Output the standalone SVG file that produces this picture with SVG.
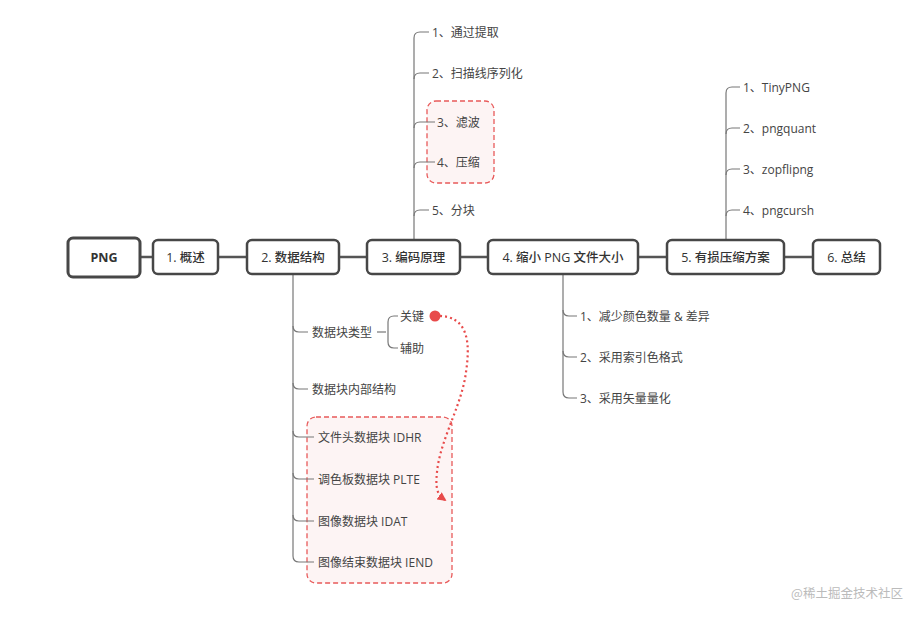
<svg xmlns="http://www.w3.org/2000/svg" width="923" height="621" viewBox="0 0 923 621">
<defs>
<style>
.box{fill:#fff;stroke:#474747;stroke-width:2.5}
.mt{font-family:"Open Sans","Noto Sans CJK SC",sans-serif;font-size:12.5px;font-weight:500;fill:#333;text-anchor:middle;dominant-baseline:central}
.ct{font-family:"Open Sans","Noto Sans CJK SC",sans-serif;font-size:12px;fill:#444;dominant-baseline:central}
.ln{fill:none;stroke:#555;stroke-width:2.5}
.br{fill:none;stroke:#777;stroke-width:1.2}
.hl{fill:#fdf4f4;stroke:#e85a5a;stroke-width:1.3;stroke-dasharray:5 3}
</style>
<marker id="ah" viewBox="0 0 10 10" refX="8" refY="5" markerWidth="9" markerHeight="9" markerUnits="userSpaceOnUse" orient="auto">
<path d="M0,0 L10,5 L0,10 Z" fill="#e84a4a"/>
</marker>
</defs>
<rect width="923" height="621" fill="#fff"/>

<g id="highlights">
<rect class="hl" x="427" y="101" width="67" height="82" rx="9"/>
<rect class="hl" x="307" y="417" width="145" height="166" rx="9"/>
</g>

<g id="connectors">
<path class="ln" d="M140,257 H153 M218,257 H247 M339,257 H367 M460,257 H488 M638,257 H667 M784,257 H813"/>
<path class="br" d="M414,240 V38 Q414,32 420,32 H429"/>
<path class="br" d="M414,79 Q414,73 420,73 H429"/>
<path class="br" d="M414,128 Q414,122 420,122 H435"/>
<path class="br" d="M414,168 Q414,162 420,162 H435"/>
<path class="br" d="M414,216 Q414,210 420,210 H429"/>
<path class="br" d="M726,240 V93 Q726,87 732,87 H740"/>
<path class="br" d="M726,134 Q726,128 732,128 H740"/>
<path class="br" d="M726,175 Q726,169 732,169 H740"/>
<path class="br" d="M726,216 Q726,210 732,210 H740"/>
<path class="br" d="M293,274 V556 Q293,562 299,562 H314"/>
<path class="br" d="M293,326 Q293,332 299,332 H308"/>
<path class="br" d="M293,383 Q293,389 299,389 H308"/>
<path class="br" d="M293,431 Q293,437 299,437 H314"/>
<path class="br" d="M293,473 Q293,479 299,479 H314"/>
<path class="br" d="M293,515 Q293,521 299,521 H314"/>
<path class="br" d="M377,332 H386"/>
<path class="br" d="M398,316 H394 Q388,316 388,322 V342 Q388,348 394,348 H398"/>
<path class="br" d="M563,274 V392 Q563,398 569,398 H577"/>
<path class="br" d="M563,310 Q563,316 569,316 H577"/>
<path class="br" d="M563,351 Q563,357 569,357 H577"/>
<circle cx="435" cy="316" r="5.5" fill="#e84a4a"/>
<path d="M435,316 C470,314 470,345 466,372 C462,405 440,440 437,472 C435,490 438,495 445,500" fill="none" stroke="#e84a4a" stroke-width="2.2" stroke-dasharray="2 3" marker-end="url(#ah)"/>
</g>

<g id="n0"><rect class="box" x="68" y="238" width="72" height="39" rx="5" style="stroke-width:3"/><text class="mt" x="104" y="257" style="font-weight:700">PNG</text></g>
<g id="n1"><rect class="box" x="153" y="240" width="65" height="34" rx="5"/><text class="mt" x="185.5" y="257">1. 概述</text></g>
<g id="n2"><rect class="box" x="247" y="240" width="92" height="34" rx="5"/><text class="mt" x="293" y="257">2. 数据结构</text></g>
<g id="n3"><rect class="box" x="367" y="240" width="93" height="34" rx="5"/><text class="mt" x="413.5" y="257">3. 编码原理</text></g>
<g id="n4"><rect class="box" x="488" y="240" width="150" height="34" rx="5"/><text class="mt" x="563" y="257">4. 缩小 PNG 文件大小</text></g>
<g id="n5"><rect class="box" x="667" y="240" width="117" height="34" rx="5"/><text class="mt" x="725.5" y="257">5. 有损压缩方案</text></g>
<g id="n6"><rect class="box" x="813" y="240" width="67" height="34" rx="5"/><text class="mt" x="846.5" y="257">6. 总结</text></g>

<g id="n3-children">
<text class="ct" x="432" y="32">1、通过提取</text>
<text class="ct" x="432" y="73">2、扫描线序列化</text>
<text class="ct" x="437" y="122">3、滤波</text>
<text class="ct" x="437" y="162">4、压缩</text>
<text class="ct" x="432" y="210">5、分块</text>
</g>
<g id="n5-children">
<text class="ct" x="743" y="87">1、TinyPNG</text>
<text class="ct" x="743" y="128">2、pngquant</text>
<text class="ct" x="743" y="169">3、zopflipng</text>
<text class="ct" x="743" y="210">4、pngcursh</text>
</g>
<g id="n2-children">
<text class="ct" x="312" y="332">数据块类型</text>
<text class="ct" x="400" y="316">关键</text>
<text class="ct" x="400" y="348">辅助</text>
<text class="ct" x="312" y="389">数据块内部结构</text>
<text class="ct" x="318" y="437">文件头数据块 IDHR</text>
<text class="ct" x="318" y="479">调色板数据块 PLTE</text>
<text class="ct" x="318" y="521">图像数据块 IDAT</text>
<text class="ct" x="318" y="562">图像结束数据块 IEND</text>
</g>
<g id="n4-children">
<text class="ct" x="580" y="316">1、减少颜色数量 &amp; 差异</text>
<text class="ct" x="580" y="357">2、采用索引色格式</text>
<text class="ct" x="580" y="398">3、采用矢量量化</text>
</g>

<text x="847" y="592" font-family="'Noto Sans CJK SC',sans-serif" font-size="12.5" fill="#bbb" text-anchor="middle" dominant-baseline="central">@稀土掘金技术社区</text>
</svg>
